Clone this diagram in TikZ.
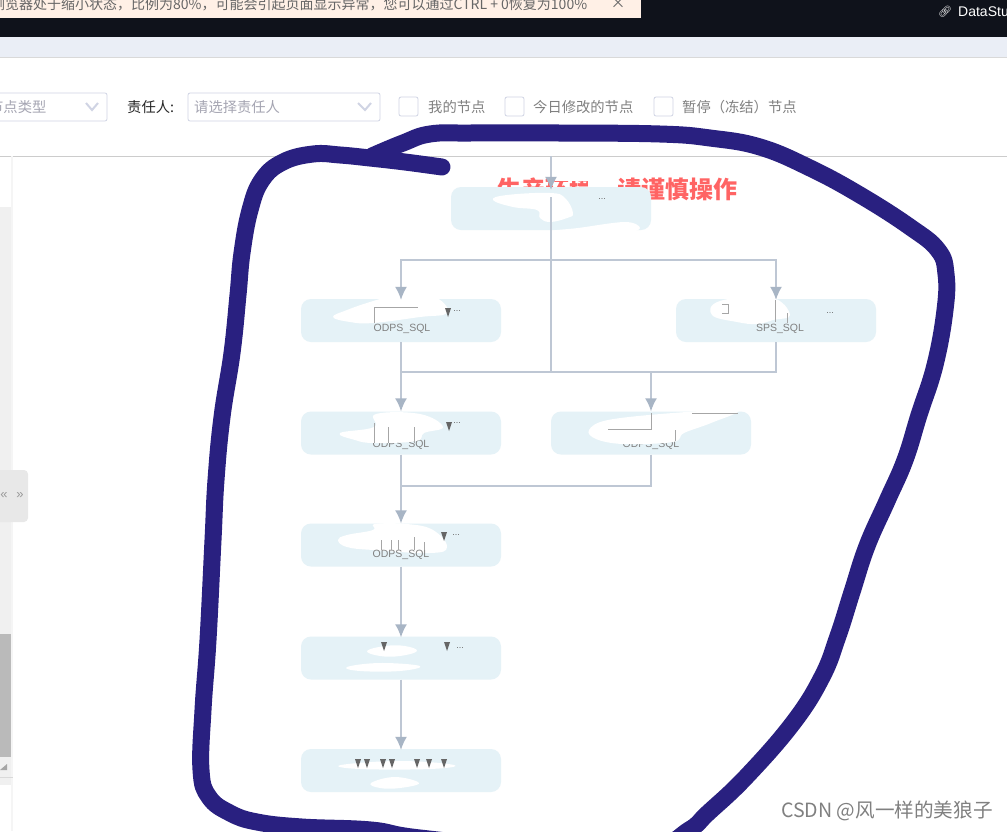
\documentclass[tikz,border=0pt]{standalone}
\usepackage{fontspec}
\setmainfont{Liberation Sans}
\newfontfamily\cjk{Noto Sans CJK SC}
\newfontfamily\emoji{Noto Emoji}
\usetikzlibrary{arrows.meta}
\def\markerpath{(442,167) (405,162) (370,158) (340,155) (313,154) (283,162) (262,180) (250,210) (242,253) (238,295) (232,353) (222,417) (216,480) (213,540) (208,640) (203,710) (201,770) (209,797) (230,813) (257,822) (302,827) (371,830) (420,838) (550,850) (650,848) (689,830) (708,813) (746,777) (793,723) (822,677) (838,636) (852,592) (867,546) (887,501) (905,460) (919,415) (935,365) (945,310) (946,274) (938,250) (910,227) (860,195) (810,168) (760,147) (710,138) (660,134) (560,133) (470,133) (430,134) (403,143) (372,156)}
\definecolor{task fill}{RGB}{229,242,247}
\definecolor{link gray}{RGB}{190,199,212}
\definecolor{head gray}{RGB}{168,181,197}
\definecolor{marker}{RGB}{41,32,128}
\definecolor{ctl edge}{RGB}{208,212,228}
\definecolor{ctl text}{RGB}{165,165,178}
\definecolor{top bar}{RGB}{15,18,27}
\definecolor{top band}{RGB}{234,238,246}
\definecolor{notice fill}{RGB}{255,240,230}
\definecolor{warn red}{RGB}{255,100,100}
\tikzset{task/.style={fill=task fill, rounded corners=10pt, minimum width=200pt, minimum height=43pt, inner sep=0pt},
	link/.style={draw=link gray, line width=1.5pt},
	flow/.style={link, -{Latex[length=13pt,width=12pt,color=head gray]}},
	blob/.style={fill=white, draw=none},
	tick/.style={draw=gray!70, line width=0.6pt},
	tasktype/.style={text=gray, font=\fontsize{10.5}{12}\selectfont, inner sep=0pt},
	cut/.style={text=black!60, font=\fontsize{9}{9}\selectfont, inner sep=0pt},
	selectbox/.style={draw=ctl edge, fill=white, rounded corners=2pt, line width=0.8pt},
	checkbox/.style={draw=ctl edge, fill=white, rounded corners=2pt, minimum size=19pt, inner sep=0pt, line width=0.8pt},
	ctllabel/.style={text=gray, font=\cjk\fontsize{14.3}{16}\selectfont, inner sep=0pt, anchor=west},
	hint/.style={text=ctl text, font=\cjk\fontsize{14.3}{16}\selectfont, inner sep=0pt, anchor=west}}
\begin{document}
\begin{tikzpicture}[x=1pt,y=-1pt]
		\useasboundingbox (0,0) rectangle (1007,831);
		\clip (0,0) rectangle (1007,831);
		% page bands
		\fill[white] (0,0) rectangle (1007,831);
		\fill[top bar] (0,0) rectangle (1007,37);
		\fill[notice fill] (0,0) rectangle (641,18);
		\fill[top band] (0,37) rectangle (1007,57);
		\draw[black!15] (0,57) -- (1007,57);
		\draw[black!20] (0,156) -- (1007,156);
		\node[anchor=west, inner sep=0pt, text=black!60, font=\cjk\fontsize{14}{16}\selectfont] (notice) at (-9,4) {浏览器处于缩小状态，比例为80\%，可能会引起页面显示异常，您可以通过CTRL + 0恢复为100\%};
		\node[inner sep=0pt, text=black!60, font=\cjk\fontsize{15}{15}\selectfont] (closex) at (618,3) {×};
		\node[anchor=west, inner sep=0pt, text=white, font=\fontsize{14}{16}\selectfont] (datastu) at (958,12) {DataStu};
		\node[inner sep=0pt, text=white, font=\emoji\fontsize{11}{12}\selectfont] (linkicon) at (945,12) {🔗};
		% filter row
		\draw[selectbox] (-20,93) rectangle (107,121);
		\node[hint] (typehint) at (-11,107) {节点类型};
		\draw[ctl edge, line width=2pt] (86,103) -- (92,110) -- (98,103);
		\node[ctllabel, text=black!85] (owner) at (127,107) {责任人:};
		\draw[selectbox] (188,93) rectangle (380,121);
		\node[hint] (ownerhint) at (194,107) {请选择责任人};
		\draw[ctl edge, line width=2pt] (358,103) -- (365,110) -- (371,103);
		\node[checkbox] (mine) at (408.5,106.5) {};
		\node[ctllabel] (minetext) at (428,107) {我的节点};
		\node[checkbox] (today) at (514.5,106.5) {};
		\node[ctllabel] (todaytext) at (533,107) {今日修改的节点};
		\node[checkbox] (paused) at (663.5,106.5) {};
		\node[ctllabel] (pausedtext) at (682,107) {暂停（冻结）节点};
		% left panel
		\fill[black!6] (0,207) rectangle (11,785);
		\fill[black!4] (11,156) rectangle (13,831);
		\fill[black!27] (0,634) rectangle (11,757);
		\fill[black!35] (0,770) -- (7,764) -- (7,770) -- cycle;
		\draw[black!15] (0,777) -- (13,777);
		\fill[black!9, rounded corners=4pt] (-6,470) rectangle (28,522);
		\node[inner sep=0pt, text=black!40, font=\fontsize{13}{13}\selectfont] (foldleft) at (4,496) {«};
		\node[inner sep=0pt, text=black!40, font=\fontsize{13}{13}\selectfont] (foldright) at (20,496) {»};
		% warning, sits under the nodes
		\node[anchor=center, inner sep=0pt, text=warn red, font=\cjk\bfseries\fontsize{24}{26}\selectfont] (warning) at (617,190) {生产环境，请谨慎操作};
		\fill[blob] (555,174) rectangle (612,181);
		\fill[blob] (588,174) rectangle (618,187);
		% nodes
		\node[task] (root) at (551,208.5) {};
		\node[task] (left) at (401,320.5) {};
		\node[task] (right) at (776,320.5) {};
		\node[task] (mid) at (401,433) {};
		\node[task] (side) at (651,433) {};
		\node[task] (merge) at (401,545) {};
		\node[task] (auto) at (401,658) {};
		\node[task] (final) at (401,770.5) {};
		% type labels under the scribble
		\node[tasktype] (midtype) at (401,445) {ODPS\_SQL};
		\node[tasktype] (sidetype) at (651,445) {ODPS\_SQL};
		% scribbled out names
		\fill[blob] plot[smooth cycle,tension=0.7] coordinates {(493,200) (507,195) (550,193) (565,198) (573,213) (567,218) (550,222) (540,218) (537,210) (513,207)};
		\fill[blob] plot[smooth cycle,tension=0.6] coordinates {(551,231) (578,228) (625,222) (640,228) (625,233) (580,233)};
		\fill[blob] plot[smooth cycle,tension=0.7] coordinates {(333,317) (347,310) (370,302) (395,295) (410,293) (437,298) (447,313) (420,317) (373,323) (350,322)};
		\fill[blob] plot[smooth cycle,tension=0.7] coordinates {(712,315) (720,301) (770,297) (790,315) (773,320) (757,324) (737,322)};
		\fill[blob] plot[smooth cycle,tension=0.7] coordinates {(340,433) (374,427) (376,414) (420,414) (443,427) (424,433) (416,441) (374,443) (355,440)};
		\fill[blob] plot[smooth cycle,tension=0.6] coordinates {(589,430) (608,420) (673,413) (738,410) (711,423) (684,433) (673,442) (623,444) (596,439)};
		\fill[blob] plot[smooth cycle,tension=0.7] coordinates {(338,540) (347,535) (373,530) (375,524) (407,524) (433,530) (447,547) (430,553) (373,550) (347,547)};
		\fill[blob] plot[smooth cycle,tension=0.7] coordinates {(367,651) (385,646) (405,646) (417,651) (400,656) (380,656)};
		\fill[blob] plot[smooth cycle,tension=0.7] coordinates {(347,667) (380,663) (420,666) (400,671) (360,671)};
		\fill[blob] plot[smooth cycle,tension=0.7] coordinates {(341,765) (400,761) (454,765) (430,769) (360,769)};
		\fill[blob] plot[smooth cycle,tension=0.7] coordinates {(371,783) (395,777) (419,783) (400,788) (380,788)};
		% connectors
		\coordinate (start) at (551,156);
		\coordinate (fork) at (551,260);
		\coordinate (join) at (551,372);
		\coordinate (joinside) at (651,372);
		\coordinate (joinmid) at (401,372);
		\coordinate (back) at (401,486);
		\draw[flow] (start) -- ([yshift=-3pt]root.north);
		\draw[link] (551,197) -- (root.south) -- (fork) -- (join);
		\draw[flow] (fork) -| ([yshift=-1pt]left.north);
		\draw[flow] (fork) -| ([yshift=-1pt]right.north);
		\draw[link] (right.south) |- (joinmid);
		\draw[flow] (left.south) -- (mid.north);
		\draw[flow] (joinside) -- (side.north);
		\draw[flow] (mid.south) -- (merge.north);
		\draw[link] (side.south) |- (back);
		\draw[flow] (merge.south) -- ([yshift=-1pt]auto.north);
		\draw[flow] (auto.south) -- ([yshift=-1pt]final.north);
		% type labels
		\node[tasktype] (lefttype) at (402,329) {ODPS\_SQL};
		\node[tasktype] (righttype) at (780,329) {SPS\_SQL};
		\node[tasktype] (mergetype) at (401,555) {ODPS\_SQL};
		% cut names
		\node[cut] (rootcut) at (602,199) {...};
		\node[cut] (leftcut) at (457,311) {...};
		\node[cut] (rightcut) at (830,313) {...};
		\node[cut] (midcut) at (457,423) {...};
		\node[cut] (mergecut) at (456,535) {...};
		\node[cut] (autocut) at (460,648) {...};
		% leftover marks
		\draw[tick] (374,323) |- (418,307);
		\draw[tick] (722,304) -| (728,313) -- (722,313);
		\draw[tick] (374,443) -- (374,423) (388,443) -- (388,427) (414,443) -- (414,427);
		\draw[tick] (608,429) -| (651,413) (692,413) -- (738,413) (675,430) -- (675,441);
		\draw[tick] (775,300) -- (775,322) (787,313) -- (787,323);
		\draw[tick] (381,550) -- (381,540) (391,550) -- (391,540) (398,550) -- (398,540) (414,550) -- (414,537) (424,550) -- (424,542);
		\foreach \tipx/\tipy in {448/312, 449/426, 444/536, 384/646, 447/646, 358/763, 367/763, 383/763, 392/763, 417/763, 429/763, 444/763}
			\fill[black!60] (\tipx-3,\tipy-4) -- (\tipx+3,\tipy-4) -- (\tipx,\tipy+5) -- cycle;
		% marker ring
		\draw[marker, line width=17pt, line cap=round, line join=round] plot[smooth,tension=0.7] coordinates {\markerpath};
		% watermark
		\node[anchor=west, inner sep=0pt, text=black!50, font=\cjk\fontsize{19.6}{22}\selectfont] (mark) at (781,811) {CSDN @风一样的美狼子};
		\end{tikzpicture}
\end{document}
